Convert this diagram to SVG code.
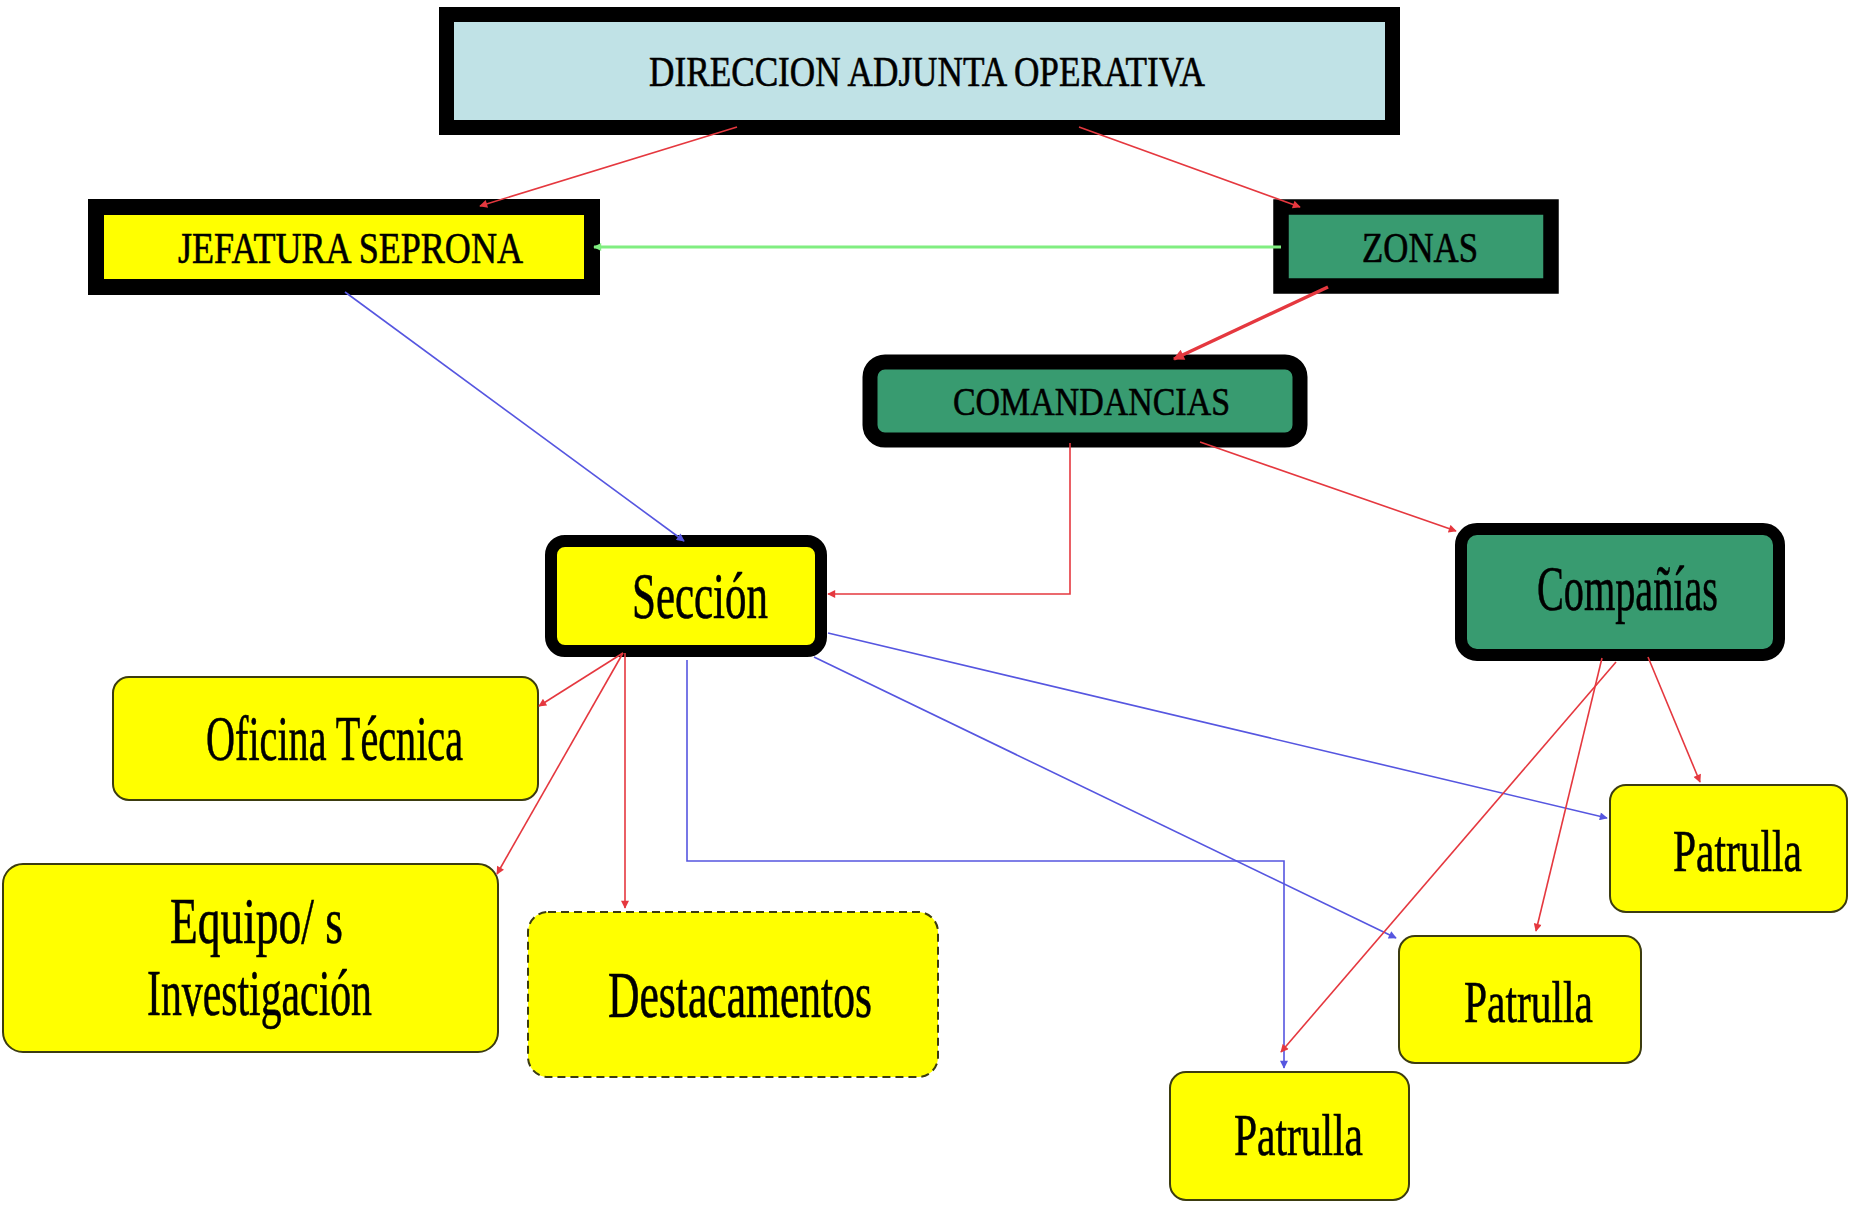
<svg xmlns="http://www.w3.org/2000/svg" width="1863" height="1211" viewBox="0 0 1863 1211">
<defs>
<style>
.t{font-family:"Liberation Serif","Times New Roman",serif;fill:#000;stroke:#000;stroke-width:0.6;}
.thin{stroke:#3c3c10;stroke-width:2;}
.y{fill:#ffff00;}
.g{fill:#389b70;}
.r{stroke:#e5383f;stroke-width:1.6;fill:none;}
.b{stroke:#5656e0;stroke-width:1.6;fill:none;}
</style>
<marker id="ar" viewBox="0 0 10 10" refX="9" refY="5" markerWidth="9" markerHeight="8" markerUnits="userSpaceOnUse" orient="auto"><path d="M0,0 L10,5 L0,10 z" fill="#e5383f"/></marker>
<marker id="arT" viewBox="0 0 10 10" refX="9" refY="5" markerWidth="14" markerHeight="11" markerUnits="userSpaceOnUse" orient="auto"><path d="M0,0 L10,5 L0,10 z" fill="#e5383f"/></marker>
<marker id="ab" viewBox="0 0 10 10" refX="9" refY="5" markerWidth="9" markerHeight="8" markerUnits="userSpaceOnUse" orient="auto"><path d="M0,0 L10,5 L0,10 z" fill="#5656e0"/></marker>
<marker id="ag" viewBox="0 0 10 10" refX="9" refY="5" markerWidth="9" markerHeight="8" markerUnits="userSpaceOnUse" orient="auto"><path d="M0,0 L10,5 L0,10 z" fill="#80ee80"/></marker>
</defs>
<rect width="1863" height="1211" fill="#fff"/>

<g id="direccion">
<rect x="446.5" y="14.5" width="946" height="113" fill="#c0e2e6" stroke="#000" stroke-width="15"/>
<text class="t" x="649" y="86" font-size="42" textLength="556" lengthAdjust="spacingAndGlyphs">DIRECCION ADJUNTA OPERATIVA</text>
</g>

<g id="jefatura">
<rect x="96" y="207" width="496" height="80" class="y" stroke="#000" stroke-width="16"/>
<text class="t" x="178" y="263" font-size="44" textLength="345" lengthAdjust="spacingAndGlyphs">JEFATURA SEPRONA</text>
</g>

<g id="zonas">
<rect x="1281" y="207" width="270" height="79" class="g" stroke="#000" stroke-width="15.5"/>
<text class="t" x="1362" y="262" font-size="42" textLength="116" lengthAdjust="spacingAndGlyphs">ZONAS</text>
</g>

<g id="comandancias">
<rect x="870" y="362" width="430" height="78" rx="15" class="g" stroke="#000" stroke-width="15"/>
<text class="t" x="953" y="415" font-size="41" textLength="277" lengthAdjust="spacingAndGlyphs">COMANDANCIAS</text>
</g>

<g id="seccion">
<rect x="551" y="541" width="270" height="110" rx="14" class="y" stroke="#000" stroke-width="12"/>
<text class="t" x="632" y="618" font-size="65" textLength="136" lengthAdjust="spacingAndGlyphs">Sección</text>
</g>

<g id="companias">
<rect x="1461" y="529" width="318" height="126" rx="16" class="g" stroke="#000" stroke-width="12"/>
<text class="t" x="1537" y="610" font-size="64" textLength="181" lengthAdjust="spacingAndGlyphs">Compañías</text>
</g>

<g id="oficina">
<rect x="113" y="677" width="425" height="123" rx="16" class="y thin"/>
<text class="t" x="206" y="760" font-size="64" textLength="257" lengthAdjust="spacingAndGlyphs">Oficina Técnica</text>
</g>

<g id="equipo">
<rect x="3" y="864" width="495" height="188" rx="20" class="y thin"/>
<text class="t" x="170" y="943" font-size="65" textLength="173" lengthAdjust="spacingAndGlyphs">Equipo/ s</text>
<text class="t" x="147" y="1015" font-size="65" textLength="225" lengthAdjust="spacingAndGlyphs">Investigación</text>
</g>

<g id="destacamentos">
<rect x="528" y="912" width="410" height="165" rx="20" class="y thin" stroke-dasharray="8,5"/>
<text class="t" x="608" y="1017" font-size="65" textLength="264" lengthAdjust="spacingAndGlyphs">Destacamentos</text>
</g>

<g id="patrulla1">
<rect x="1610" y="785" width="237" height="127" rx="16" class="y thin"/>
<text class="t" x="1673" y="871" font-size="60" textLength="129" lengthAdjust="spacingAndGlyphs">Patrulla</text>
</g>

<g id="patrulla2">
<rect x="1399" y="936" width="242" height="127" rx="16" class="y thin"/>
<text class="t" x="1464" y="1022" font-size="60" textLength="129" lengthAdjust="spacingAndGlyphs">Patrulla</text>
</g>

<g id="patrulla3">
<rect x="1170" y="1072" width="239" height="128" rx="16" class="y thin"/>
<text class="t" x="1234" y="1155" font-size="60" textLength="129" lengthAdjust="spacingAndGlyphs">Patrulla</text>
</g>

<g id="connectors">
<line class="r" x1="737" y1="127" x2="480" y2="206" marker-end="url(#ar)"/>
<line class="r" x1="1079" y1="127" x2="1300" y2="207" marker-end="url(#ar)"/>
<line x1="1281" y1="247" x2="594" y2="247" stroke="#80ee80" stroke-width="3" marker-end="url(#ag)"/>
<line x1="1328" y1="287" x2="1174" y2="359" stroke="#e5383f" stroke-width="3.5" marker-end="url(#arT)"/>
<line class="b" x1="345" y1="292" x2="684" y2="541" marker-end="url(#ab)"/>
<polyline class="r" points="1070,443 1070,594 828,594" marker-end="url(#ar)"/>
<line class="r" x1="1200" y1="442" x2="1456" y2="531" marker-end="url(#ar)"/>
<line class="r" x1="623" y1="653" x2="539" y2="706" marker-end="url(#ar)"/>
<line class="r" x1="623" y1="653" x2="497" y2="874" marker-end="url(#ar)"/>
<line class="r" x1="625" y1="653" x2="625" y2="908" marker-end="url(#ar)"/>
<line class="b" x1="828" y1="633" x2="1607" y2="818" marker-end="url(#ab)"/>
<line class="b" x1="814" y1="657" x2="1396" y2="938" marker-end="url(#ab)"/>
<polyline class="b" points="687,660 687,861 1284,861 1284,1068" marker-end="url(#ab)"/>
<line class="r" x1="1616" y1="662" x2="1281" y2="1052" marker-end="url(#ar)"/>
<line class="r" x1="1602" y1="658" x2="1536" y2="931" marker-end="url(#ar)"/>
<line class="r" x1="1648" y1="657" x2="1700" y2="782" marker-end="url(#ar)"/>
</g>
</svg>
